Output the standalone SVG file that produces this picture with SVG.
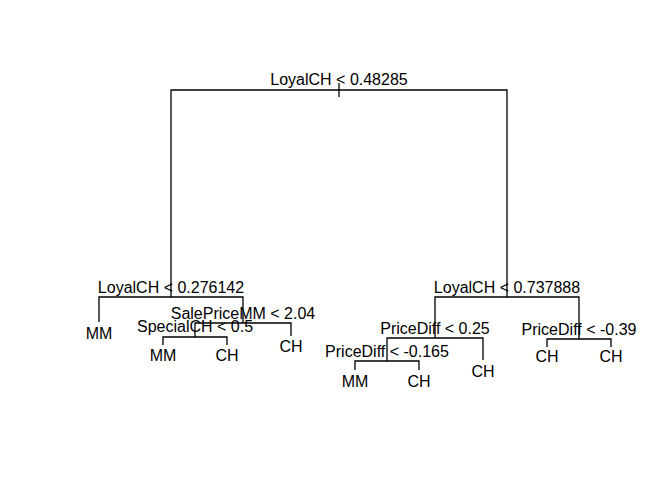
<svg xmlns="http://www.w3.org/2000/svg" width="672" height="480" viewBox="0 0 672 480">
<style>
text{font-family:"Liberation Sans",Arial,sans-serif;font-size:16px;fill:#000;text-anchor:middle}
.e{fill:none;stroke:#000;stroke-width:1.3}
</style>
<rect width="672" height="480" fill="#fff"/>
<g id="connectors">
<path class="e" d="M339,83V97"/>
<path class="e" d="M171,297V90H507V297"/>
<path class="e" d="M99,322V297H243V323"/>
<path class="e" d="M195,337V323H291V336"/>
<path class="e" d="M163,345V337H227V345"/>
<path class="e" d="M435,338V297H579V339"/>
<path class="e" d="M387,361V338H483V360"/>
<path class="e" d="M355,370V361H419V370"/>
<path class="e" d="M547,347V339H611V347"/>
</g>
<g id="n1"><text x="339" y="85">LoyalCH &lt; 0.48285</text></g>
<g id="n2"><text x="171" y="293">LoyalCH &lt; 0.276142</text></g>
<g id="n4"><text x="99" y="339">MM</text></g>
<g id="n5"><text x="243" y="319">SalePriceMM &lt; 2.04</text></g>
<g id="n10"><text x="195" y="332">SpecialCH &lt; 0.5</text></g>
<g id="n20"><text x="163" y="361">MM</text></g>
<g id="n21"><text x="227" y="361">CH</text></g>
<g id="n11"><text x="291" y="352">CH</text></g>
<g id="n3"><text x="507" y="293">LoyalCH &lt; 0.737888</text></g>
<g id="n6"><text x="435" y="334">PriceDiff &lt; 0.25</text></g>
<g id="n12"><text x="387" y="357">PriceDiff &lt; -0.165</text></g>
<g id="n24"><text x="355" y="387">MM</text></g>
<g id="n25"><text x="419" y="387">CH</text></g>
<g id="n13"><text x="483" y="377">CH</text></g>
<g id="n7"><text x="579" y="335">PriceDiff &lt; -0.39</text></g>
<g id="n14"><text x="547" y="362">CH</text></g>
<g id="n15"><text x="611" y="362">CH</text></g>
</svg>
